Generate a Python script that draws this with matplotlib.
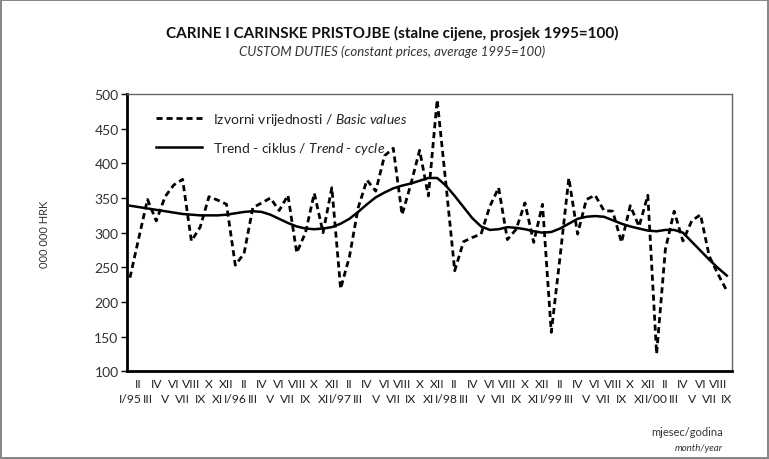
import matplotlib
matplotlib.use("Agg")
import matplotlib.pyplot as plt

plt.rcParams['font.family'] = ['Lato', 'DejaVu Sans']
plt.rcParams['mathtext.fontset'] = 'custom'
plt.rcParams['mathtext.rm'] = 'Lato'
plt.rcParams['mathtext.it'] = 'Lato:italic'

# monthly values, I/95 - IX/00
basic_values = [235, 292, 348, 317, 352, 369, 377, 288, 308, 352, 347, 341,
                253, 270, 336, 343, 350, 332, 354, 271, 300, 357, 300, 365,
                219, 265, 336, 376, 360, 411, 422, 326, 370, 419, 353, 492,
                370, 245, 287, 293, 298, 338, 365, 290, 305, 343, 286, 341,
                156, 265, 379, 298, 348, 354, 332, 331, 286, 339, 309, 354,
                125, 276, 331, 288, 317, 326, 266, 240, 216]
trend_cycle = [339, 337, 335, 333, 331, 329, 327, 326, 325, 325, 325, 326,
               328, 330, 331, 330, 326, 320, 314, 309, 306, 305, 306, 308,
               313, 320, 330, 341, 351, 358, 364, 368, 371, 375, 379, 379,
               368, 353, 337, 321, 309, 304, 305, 308, 307, 305, 302, 300,
               301, 306, 313, 320, 323, 324, 323, 318, 313, 309, 306, 303,
               302, 304, 304, 300, 287, 274, 261, 249, 238]
months = ["I", "II", "III", "IV", "V", "VI", "VII", "VIII", "IX", "X", "XI", "XII"]
years = ["95", "96", "97", "98", "99", "00"]

x = list(range(len(basic_values)))
upper_pos, upper_lab = [], []
lower_pos, lower_lab = [], []
for i in x:
    m = months[i % 12]
    if i % 12 == 0:
        m = m + "/" + years[i // 12]
    # odd months go to the lower row
    if i % 2 == 0:
        lower_pos.append(i)
        lower_lab.append(m)
    else:
        upper_pos.append(i)
        upper_lab.append(m)

fig = plt.figure(figsize=(7.69, 4.6), dpi=100)
fig.patch.set_edgecolor("#888888")
fig.patch.set_linewidth(1.5)
ax = fig.add_axes([0.165, 0.191, 0.787, 0.602])

ax.plot(x, basic_values, color="black", lw=2, linestyle=(0, (2.2, 1.4)),
        label=r"Izvorni vrijednosti / $\it{Basic\ values}$")
ax.plot(x, trend_cycle, color="black", lw=1.8,
        label=r"Trend - ciklus / $\it{Trend}$ - $\it{cycle}$")

ax.set_xlim(-0.35, 68.6)
ax.set_ylim(100, 500)
ax.set_yticks(range(100, 501, 50))
ax.set_xticks(upper_pos)
ax.set_xticklabels(upper_lab, fontsize=8.7, color="#222222")
ax.set_xticks(lower_pos, minor=True)
ax.set_xticklabels(lower_lab, minor=True, fontsize=8.7, color="#222222")
ax.tick_params(axis="x", which="major", length=0, pad=5)
ax.tick_params(axis="x", which="minor", length=0, pad=16)
ax.tick_params(axis="y", length=4, width=1, labelsize=10, labelcolor="#333333", pad=2)

for side in ["left", "bottom"]:
    ax.spines[side].set_linewidth(2)
    ax.spines[side].set_color("black")
for side in ["top", "right"]:
    ax.spines[side].set_linewidth(1)
    ax.spines[side].set_color("#666666")

leg = ax.legend(loc="upper left", frameon=False, fontsize=10, handlelength=3.3,
                labelspacing=0.95, bbox_to_anchor=(0.028, 0.985))
for t in leg.get_texts():
    t.set_color("#222222")

fig.text(0.51, 0.928, "CARINE I CARINSKE PRISTOJBE (stalne cijene, prosjek 1995=100)",
         ha="center", va="center", fontsize=11, fontweight="bold", color="#111111")
fig.text(0.51, 0.887, "CUSTOM DUTIES (constant prices, average 1995=100)",
         ha="center", va="center", fontsize=9.5, style="italic", color="#333333")
fig.text(0.058, 0.49, "000 000 HRK", rotation=90, ha="center", va="center",
         fontsize=8, color="#333333")
fig.text(0.94, 0.059, "mjesec/godina", ha="right", va="center", fontsize=8, color="#333333")
fig.text(0.94, 0.025, "month/year", ha="right", va="center", fontsize=7,
         style="italic", color="#333333")

fig.savefig("out.png", dpi=100)
